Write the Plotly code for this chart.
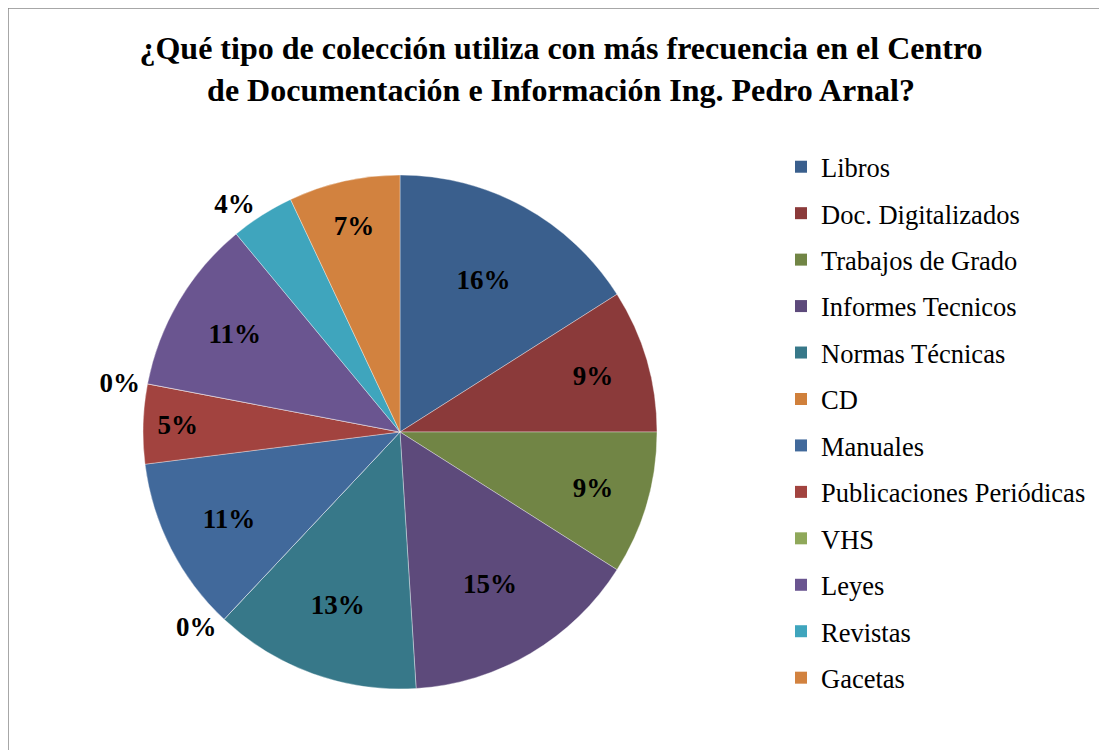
import plotly.graph_objects as go

categories = ["Libros", "Doc. Digitalizados", "Trabajos de Grado", "Informes Tecnicos",
              "Normas Técnicas", "CD", "Manuales", "Publicaciones Periódicas", "VHS",
              "Leyes", "Revistas", "Gacetas"]
values = [16, 9, 9, 15, 13, 0, 11, 5, 0, 11, 4, 7]
colors = ["#3A5F8D", "#8B3A3A", "#718545", "#5D4A7B", "#377889", "#D0803B",
          "#41699B", "#A2433F", "#8FA85A", "#6A5590", "#3FA5BD", "#D2823F"]
label_pos = ["inside", "inside", "inside", "inside", "inside", "outside",
             "inside", "inside", "outside", "inside", "outside", "inside"]

title_text = ("¿Qué tipo de colección utiliza con más frecuencia en el Centro<br>"
              "de Documentación e Información Ing. Pedro Arnal?")

SERIF = "Times New Roman, Liberation Serif, serif"
OFF = 8  # page body margin
W, H = 1107 - OFF, 750 - OFF
cx, cy, r = 400 - OFF, 432 - OFF, 257

fig = go.Figure()
fig.add_trace(go.Pie(
    labels=categories, values=values, sort=False, direction="clockwise", rotation=0,
    marker=dict(colors=colors, line=dict(color="rgba(255,255,255,0.35)", width=1)),
    textposition=label_pos, insidetextorientation="horizontal",
    texttemplate="%{percent:.0%}",
    textfont=dict(family=SERIF, size=27, color="black", weight="bold"),
    showlegend=False, hoverinfo="label+percent",
    domain=dict(x=[(cx - r) / W, (cx + r) / W], y=[1 - (cy + r) / H, 1 - (cy - r) / H]),
))

for name, col in zip(categories, colors):
    fig.add_trace(go.Scatter(
        x=[None], y=[None], mode="markers", name=name, legendgroup=name,
        marker=dict(symbol="square", size=12, color=col),
    ))

fig.update_layout(
    width=W, height=H,
    margin=dict(l=0, r=0, t=0, b=0),
    paper_bgcolor="white", plot_bgcolor="white",
    xaxis=dict(visible=False), yaxis=dict(visible=False),
    title=dict(text=title_text, x=(561 - OFF) / W, xanchor="center", y=1 - (59 - OFF) / H,
               yanchor="top",
               font=dict(family=SERIF, size=32, color="black", weight="bold")),
    legend=dict(x=(781 - OFF) / W, xanchor="left", y=1 - (143 - OFF) / H, yanchor="top",
                font=dict(family=SERIF, size=26.5, color="black"),
                traceorder="grouped", tracegroupgap=9, itemclick=False,
                bgcolor="rgba(0,0,0,0)"),
    shapes=[dict(type="rect", xref="paper", yref="paper",
                 x0=0, x1=1 - 3 / W, y0=-0.02, y1=1,
                 line=dict(color="#8A8A8A", width=1.5), fillcolor="rgba(0,0,0,0)")],
)

fig.write_html("out.html")
